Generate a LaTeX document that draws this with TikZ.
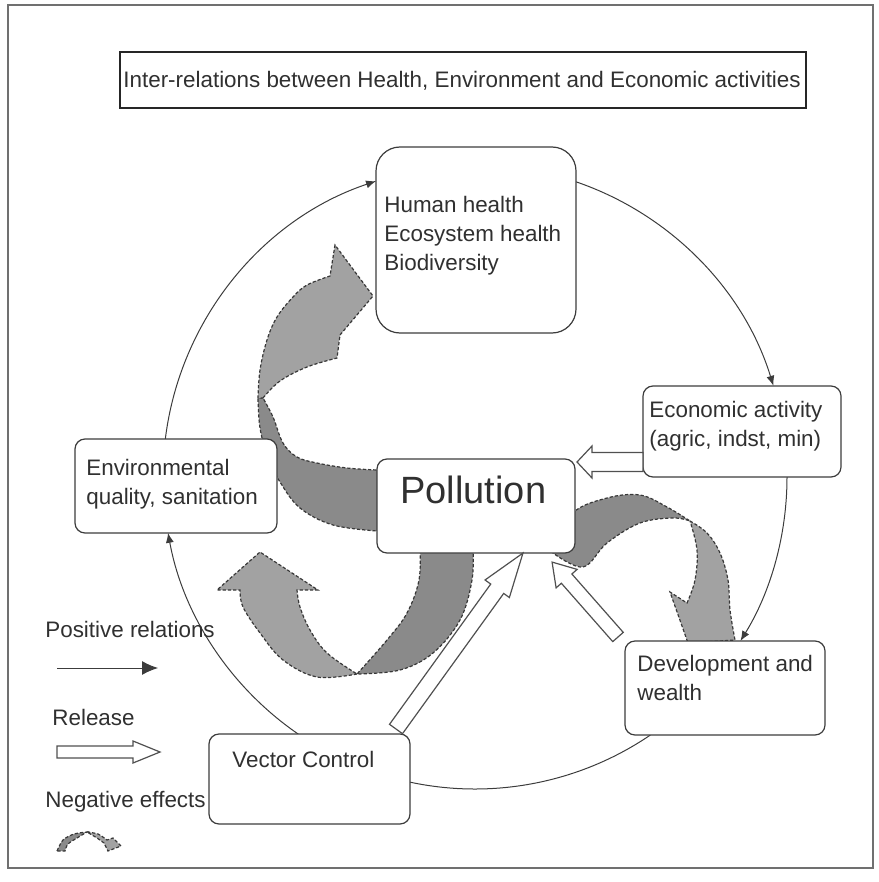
\documentclass[tikz,border=0pt]{standalone}
\usepackage{fontspec}
\setmainfont{Liberation Sans}
\usetikzlibrary{calc, arrows.meta}

\definecolor{boxline}{HTML}{3C3C3C}
\definecolor{txt}{HTML}{303030}
\definecolor{framegray}{HTML}{707070}
\definecolor{darkband}{HTML}{8A8A8A}
\definecolor{lightband}{HTML}{A2A2A2}
\definecolor{bandline}{HTML}{383838}
\definecolor{relline}{HTML}{505050}

\tikzset{
  boxnode/.style={draw=boxline, fill=white, line width=0.6pt, rounded corners=5pt, inner sep=0pt},
  boxtext/.style={text=txt, font=\fontsize{11.2}{14.5}\selectfont, inner sep=0pt, align=left},
  circleline/.style={draw=boxline, line width=0.5pt},
  posrel/.style={circleline, -{Latex[length=5pt, width=4pt]}},
  ribbondark/.style={fill=darkband, draw=bandline, line width=0.6pt, dash pattern=on 1.6pt off 1pt},
  ribbonlight/.style={fill=lightband, draw=bandline, line width=0.6pt, dash pattern=on 1.6pt off 1pt},
  release/.style n args={3}{draw=relline, fill=white, line width=0.6pt,
    to path={let \p1=(\tikztostart), \p2=(\tikztotarget),
      \n1={atan2(\y2-\y1,\x2-\x1)}, \n2={veclen(\x2-\x1,\y2-\y1)} in
      {[shift={(\p1)}, rotate=\n1]
        (0pt,-#1) -- (\n2-#3,-#1) -- (\n2-#3,-#2) -- (\n2,0pt)
        -- (\n2-#3,#2) -- (\n2-#3,#1) -- (0pt,#1) -- cycle}}}
}

\begin{document}
\begin{tikzpicture}[x=0.5pt, y=-0.5pt]
    \useasboundingbox (0,0) rectangle (878,882);
    \draw[framegray, line width=0.6pt] (8,5) rectangle (873,868); % outer frame

    % the ring of positive relations
    \coordinate (ctr) at (475,477);
    \draw[posrel] ($(ctr)+(187:312)$) arc[start angle=187, end angle=251.5, radius=312]; % env -> human
    \draw[posrel] ($(ctr)+(288.9:312)$) arc[start angle=288.9, end angle=343, radius=312]; % human -> economy
    \draw[posrel] ($(ctr)+(0:312)$) arc[start angle=0, end angle=31.7, radius=312]; % economy -> development
    \draw[circleline] ($(ctr)+(55.8:312)$) arc[start angle=55.8, end angle=102, radius=312]; % development -> vector
    \draw[posrel] ($(ctr)+(124.5:312)$) arc[start angle=124.5, end angle=169.7, radius=312]; % vector -> env

    % negative effects: left ribbon
    \draw[ribbondark] (392,470) -- plot[smooth, tension=0.6] coordinates {(377,470) (347,468) (317,463) (297,457) (283,443) (273,417) (263,398)}
        -- plot[smooth, tension=0.6] coordinates {(258,398) (260,428) (268,458) (280,482) (300,508) (333,525) (377,531)} -- (392,531) -- cycle;
    \draw[ribbonlight] (263,398) -- plot[smooth, tension=0.6] coordinates {(263,398) (280,381) (307,367) (337,358)}
        -- (340,335) -- (373,296) -- (335,245) -- (330,276)
        -- plot[smooth, tension=0.6] coordinates {(330,276) (307,285) (293,297) (277,317) (267,340) (260,370) (258,398)} -- cycle;
    % bottom ribbon
    \draw[ribbondark] (420,545) -- plot[smooth, tension=0.6] coordinates {(420,545) (419,580) (407,613) (387,640) (357,674)}
        -- plot[smooth, tension=0.6] coordinates {(357,674) (400,670) (433,653) (460,620) (472,580) (473,545)} -- cycle;
    \draw[ribbonlight] (357,674) -- plot[smooth, tension=0.6] coordinates {(357,674) (317,677) (283,660) (260,633) (243,607) (240,590)}
        -- (217,590) -- (260,552) -- (318,590) -- (297,590)
        -- plot[smooth, tension=0.6] coordinates {(297,590) (300,607) (310,630) (327,653) (357,674)} -- cycle;
    % right ribbon
    \draw[ribbondark] (560,548) -- plot[smooth, tension=0.6] coordinates {(560,548) (573,513) (607,498) (640,495) (667,507) (690,521)}
        -- plot[smooth, tension=0.6] coordinates {(690,521) (673,518) (640,523) (607,543) (583,567) (553,553)} -- cycle;
    \draw[ribbonlight] (690,521) -- plot[smooth, tension=0.6] coordinates {(690,521) (707,533) (720,553) (728,580) (730,610) (735,640)}
        -- (688,643) -- (670,592) -- (687,603)
        -- plot[smooth, tension=0.6] coordinates {(687,603) (695,580) (697,550) (690,521)} -- cycle;

    % boxes
    \node[boxnode, rounded corners=0pt, draw=black!85, minimum width=343pt, minimum height=28pt] (title) at (463,80) {};
    \node[boxnode, rounded corners=12pt, minimum width=100pt, minimum height=93pt] (human) at (476,240) {};
    \node[boxnode, minimum width=99pt, minimum height=45.5pt] (econ) at (742,431.5) {};
    \node[boxnode, minimum width=101pt, minimum height=47pt] (env) at (176,486) {};
    \node[boxnode, minimum width=99pt, minimum height=47pt] (poll) at (476,506) {};
    \node[boxnode, minimum width=100pt, minimum height=47pt] (dev) at (725,688) {};
    \node[boxnode, minimum width=100.5pt, minimum height=45pt] (vector) at (309.5,779) {};

    % texts
    \node[boxtext, anchor=base west] (titletxt) at (123,88) {Inter-relations between Health, Environment and Economic activities};
    \node[boxtext, anchor=north west] (humantxt) at (384,196) {Human health\\Ecosystem health\\Biodiversity};
    \node[boxtext, anchor=north west] (econtxt) at (649,401) {Economic activity\\(agric, indst, min)};
    \node[boxtext, anchor=north west] (envtxt) at (86,459) {Environmental\\quality, sanitation};
    \node[boxtext, font=\fontsize{19}{22}\selectfont, anchor=base west] (polltxt) at (400,503) {Pollution};
    \node[boxtext, anchor=north west] (devtxt) at (637,655) {Development and\\wealth};
    \node[boxtext, anchor=base west] (vectortxt) at (232,767) {Vector Control};

    % release into pollution
    \coordinate (relEcon) at (643,462);
    \coordinate (relPollA) at (577,462);
    \coordinate (relVec) at (396,729);
    \coordinate (relPollB) at (523,553);
    \coordinate (relDev) at (618,637);
    \coordinate (relPollC) at (552,562);
    \draw[release={4.75pt}{8pt}{7.5pt}] (relEcon) to (relPollA);
    \draw[release={4pt}{7.5pt}{22pt}] (relVec) to (relPollB);
    \draw[release={3.5pt}{7pt}{11pt}] (relDev) to (relPollC);

    % legend
    \node[boxtext, anchor=base west] (legpos) at (45,637) {Positive relations};
    \coordinate (legPosA) at (57,668);
    \coordinate (legPosB) at (158,668);
    \draw[circleline, -{Latex[length=8pt, width=7pt]}] (legPosA) -- (legPosB);
    \node[boxtext, anchor=base west] (legrel) at (52,725) {Release};
    \coordinate (legRelA) at (57,752);
    \coordinate (legRelB) at (160,752);
    \draw[release={3pt}{5.5pt}{13.5pt}] (legRelA) to (legRelB);
    \node[boxtext, anchor=base west] (legneg) at (45,807) {Negative effects};
    \draw[ribbondark] (57,851) -- plot[smooth] coordinates {(57,851) (63,840) (74,834) (87,832)}
        -- plot[smooth] coordinates {(87,832) (77,838) (68,844) (65,851)} -- cycle;
    \draw[ribbonlight] (87,832) -- plot[smooth] coordinates {(87,832) (98,834) (107,840)}
        -- (113,838) -- (121,846) -- (108,851) -- (104,843)
        -- plot[smooth] coordinates {(104,843) (97,838) (87,832)} -- cycle;
\end{tikzpicture}
\end{document}
